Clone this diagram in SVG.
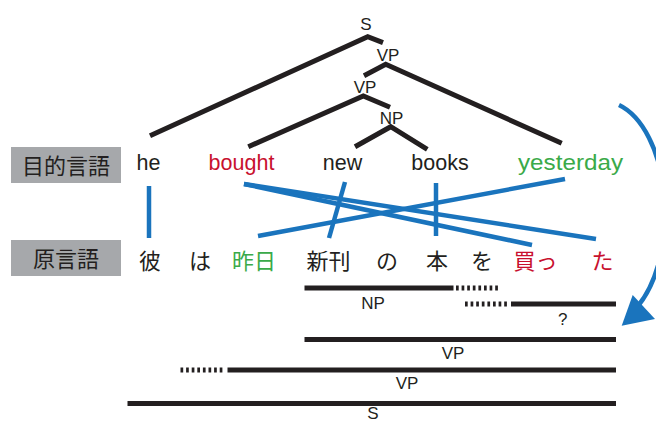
<svg xmlns="http://www.w3.org/2000/svg" width="656" height="421" viewBox="0 0 656 421">
<style>
.lat{font-family:"Liberation Sans",Arial,sans-serif;fill:#231f20}
.lbl{font-size:17px;text-anchor:middle}
.w{font-size:21.5px;text-anchor:middle}
.jp{font-family:"Noto Sans CJK JP","Noto Sans CJK SC",sans-serif;font-size:22px;fill:#231f20;text-anchor:middle}
.red{fill:#c8102e}
.grn{fill:#3aaa49}
.tree{stroke:#231f20;stroke-width:5;fill:none}
.blue{stroke:#1a74bd;stroke-width:4.5;fill:none}
.bar{stroke:#231f20;stroke-width:5}
.dash{stroke:#231f20;stroke-width:5;stroke-dasharray:2.7 2.9}
.box{fill:#a6a8ab}
</style>
<g id="tree-labels">
<text class="lat lbl" x="366" y="30">S</text>
<text class="lat lbl" x="388" y="61">VP</text>
<text class="lat lbl" x="365" y="93">VP</text>
<text class="lat lbl" x="391.5" y="123.5">NP</text>
</g>
<g id="label-target">
<rect class="box" x="11" y="147" width="110" height="36"/>
<text class="jp" x="66" y="173.5">目的言語</text>
</g>
<g id="label-source">
<rect class="box" x="11" y="240" width="110" height="36"/>
<text class="jp" x="66" y="267">原言語</text>
</g>
<g id="english">
<text class="lat w" x="148.5" y="170">he</text>
<text class="lat w red" x="241.5" y="170">bought</text>
<text class="lat w" x="342.5" y="170">new</text>
<text class="lat w" x="440" y="170">books</text>
<text class="lat w grn" x="570.5" y="170" textLength="105" lengthAdjust="spacingAndGlyphs">yesterday</text>
</g>
<g id="japanese">
<text class="jp" x="150" y="269">彼</text>
<text class="jp" x="200" y="269">は</text>
<text class="jp grn" x="254" y="269">昨日</text>
<text class="jp" x="328.5" y="269">新刊</text>
<text class="jp" x="387" y="269">の</text>
<text class="jp" x="437" y="269">本</text>
<text class="jp" x="482" y="269">を</text>
<text class="jp red" x="535.5" y="269">買っ</text>
<text class="jp red" x="602.5" y="269">た</text>
</g>
<g id="spans">
<line class="bar" x1="304.5" y1="288" x2="453.5" y2="288"/>
<line class="dash" x1="456" y1="288" x2="500" y2="288"/>
<text class="lat lbl" x="373" y="308.5">NP</text>
<line class="dash" x1="465" y1="304" x2="509" y2="304"/>
<line class="bar" x1="511" y1="304" x2="616" y2="304"/>
<text class="lat lbl" x="562.7" y="325">?</text>
<line class="bar" x1="304.5" y1="339.5" x2="616" y2="339.5"/>
<text class="lat lbl" x="453" y="359">VP</text>
<line class="dash" x1="180.5" y1="370" x2="225" y2="370"/>
<line class="bar" x1="227.5" y1="370" x2="616" y2="370"/>
<text class="lat lbl" x="407" y="388.5">VP</text>
<line class="bar" x1="127.5" y1="403.5" x2="616" y2="403.5"/>
<text class="lat lbl" x="373" y="419.3">S</text>
</g>
<g id="connectors">
<polyline class="tree" points="150,135.7 367.7,36.7 383,42.7"/>
<polyline class="tree" points="364,75.7 385.7,64.3 561.7,143.3"/>
<polyline class="tree" points="248.3,146.7 363.3,96 390,107.3"/>
<polyline class="tree" points="355,146.7 390.7,126.7 427.3,149.3"/>
<line class="blue" x1="149" y1="186" x2="149" y2="238"/>
<line class="blue" x1="244" y1="184" x2="532" y2="245"/>
<line class="blue" x1="244" y1="184" x2="596" y2="239"/>
<line class="blue" x1="345" y1="182" x2="329" y2="238"/>
<line class="blue" x1="436" y1="183" x2="436" y2="236"/>
<line class="blue" x1="565" y1="179" x2="258" y2="236"/>
<path class="blue" d="M619,105 A62,112 0 0 1 638,306"/>
<polygon points="621.7,325.7 632.7,295 655,319" fill="#1a74bd"/>
</g>
</svg>
